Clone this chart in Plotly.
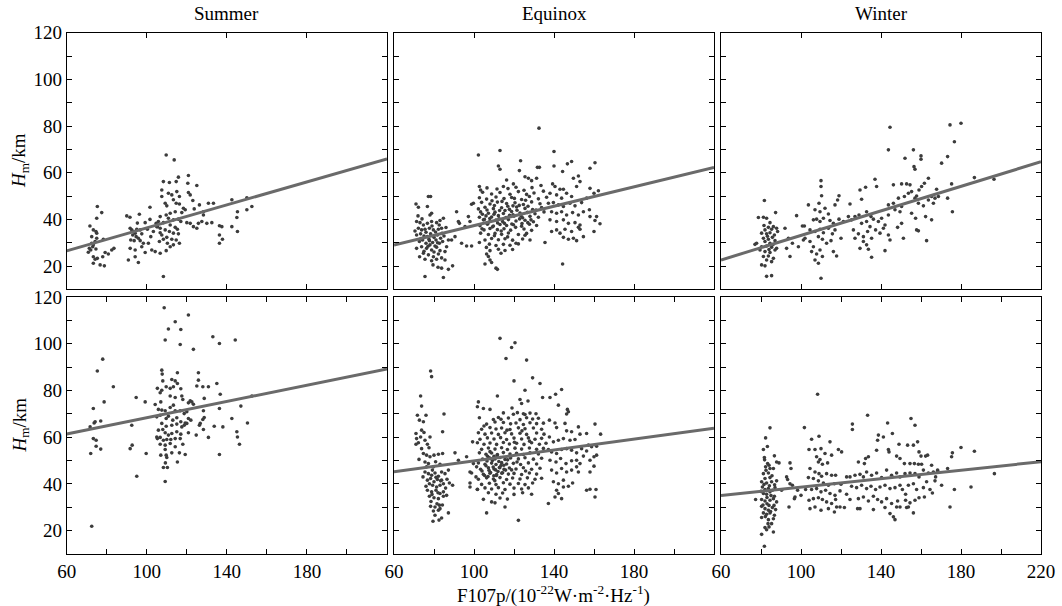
import plotly.graph_objects as go

seasons = ["Summer", "Equinox", "Winter"]
x_tick_vals = [60, 100, 140, 180, 220]
x_minor_vals = [80, 120, 160, 200]
y_tick_vals = [20, 40, 60, 80, 100, 120]
y_minor_vals = [30, 50, 70, 90, 110]

# regression line values at F107p = 60 and 220
fit_top_60 = [26.5, 29.0, 22.6]
fit_top_220 = [65.9, 62.3, 64.7]
fit_bot_60 = [61.4, 45.2, 35.0]
fit_bot_220 = [89.2, 63.8, 49.5]

summer_top = [
    (75.3,45.5),(77.5,42.9),(75.0,40.5),(71.6,37.2),(73.3,35.5),(74.6,34.8),(75.0,34.1),(72.5,29.8),(73.3,29.1),(74.2,30.5),
    (71.3,27.6),(72.0,26.9),(73.0,28.3),(74.6,27.3),(70.8,25.9),(73.3,24.0),(74.2,22.9),(73.3,21.2),(75.3,23.3),(76.7,20.5),
    (78.8,20.1),(78.0,24.0),(79.2,25.8),(80.8,25.2),(82.5,26.9),(83.6,27.6),(78.3,31.5),(75.0,31.9),(72.5,32.6),
    (90.0,41.5),(91.6,40.9),(96.3,42.2),(99.2,38.6),(101.6,45.2),(101.6,40.0),(91.7,36.2),(92.5,35.5),(93.3,34.8),(94.2,34.1),
    (95.0,35.8),(96.7,35.5),(97.5,33.8),(93.0,33.3),(94.7,32.6),(95.8,31.9),(92.0,31.2),(93.7,30.9),(96.7,30.9),(98.3,29.8),
    (97.5,28.3),(91.7,27.6),(94.2,26.9),(99.2,25.8),(102.5,26.9),(104.2,26.2),(106.7,25.5),(90.8,22.6),(94.2,24.0),(95.8,21.5),
    (100.8,29.8),(102.0,32.6),(103.3,34.8),(105.0,36.9),(105.8,39.1),(95.3,38.4),(100.3,35.8),
    (109.7,67.6),(113.7,65.5),(108.3,15.5),(108.3,56.2),(111.3,55.8),(114.7,56.2),(115.8,58.1),(120.8,58.8),(120.5,55.5),(125.0,54.5),
    (107.5,52.6),(110.8,51.2),(112.5,50.5),(115.0,51.9),(116.3,49.8),(120.8,51.5),(121.7,50.5),(123.0,48.1),(107.5,49.8),(109.2,46.9),
    (110.0,45.8),(113.3,48.4),(114.7,46.9),(116.3,46.6),(118.3,44.8),(119.2,44.1),(117.5,42.9),(114.2,43.3),(111.7,42.6),(109.7,41.9),
    (106.7,41.2),(110.8,40.5),(113.3,39.8),(115.8,40.1),(117.0,39.1),(108.3,38.6),(111.7,37.6),(114.2,36.6),(115.3,35.8),(106.7,36.2),
    (109.2,35.5),(111.3,34.8),(113.3,34.1),(115.8,33.8),(107.5,33.3),(110.0,32.3),(112.5,31.5),(114.7,31.2),(108.3,31.5),(106.3,30.5),
    (110.3,29.8),(113.3,29.1),(116.3,29.8),(111.7,28.3),(109.7,26.6),(106.7,34.3),(105.3,36.9),(104.7,38.3),(120.0,38.6),(121.7,38.3),
    (123.3,36.9),(125.0,36.2),(125.8,38.3),(127.5,39.1),(128.3,43.3),(128.3,41.9),(130.8,46.9),(133.3,46.9),(126.3,46.2),(123.7,44.5),
    (130.0,38.3),(132.5,38.6),(136.3,37.3),(137.5,36.9),(136.3,33.3),(137.8,31.5),(136.3,29.8),(142.5,48.4),(145.3,43.3),(145.0,40.8),
    (142.5,36.9),(145.3,34.8),(150.0,49.3),(152.5,45.5),(150.0,44.1),
]

equinox_top = [
    (71.0,46.6),(72.2,45.2),(77.2,49.8),(78.3,49.8),(76.7,45.5),(78.0,41.9),(78.8,42.6),(75.5,15.5),(84.7,15.1),(83.8,19.1),
    (87.2,18.6),(89.3,20.1),(85.5,22.6),
    (71.3,39.1),(73.0,38.6),(74.7,37.6),(76.7,38.3),(78.8,39.1),(81.3,38.6),(83.0,39.5),(84.7,40.5),(72.2,36.2),(73.8,35.5),
    (75.5,35.8),(77.7,36.2),(79.7,35.5),(82.2,35.8),(83.8,36.2),(71.3,33.3),(73.3,33.8),(75.0,32.9),(76.7,32.6),(78.3,33.8),
    (80.0,32.3),(81.7,33.3),(83.3,31.9),(85.0,32.9),(72.7,30.5),(74.3,31.2),(76.0,29.8),(77.7,30.9),(79.3,30.1),(81.0,31.2),
    (82.7,29.8),(84.3,30.5),(71.3,27.6),(73.8,28.3),(76.3,27.6),(78.8,26.9),(81.3,28.1),(83.0,26.6),(74.7,25.5),(77.2,24.8),
    (79.7,24.0),(82.2,25.2),(75.5,22.9),(78.8,22.3),(81.3,22.9),(78.0,29.1),(80.5,28.6),(86.3,28.3),(87.2,31.2),
    (72.0,41.5),(74.0,40.2),(76.0,34.5),(79.0,37.2),(80.8,34.6),(82.6,37.6),(84.0,34.0),(73.5,31.8),(77.0,28.5),(80.0,26.0),
    (85.5,26.2),(75.0,26.3),(83.8,23.5),(86.0,36.5),(70.5,35.0),(72.8,24.0),(79.5,20.5),(82.0,19.5),(77.5,31.5),(81.8,30.0),
    (91.3,43.3),(92.2,39.1),(92.7,38.3),(90.5,32.6),(93.8,29.8),(96.3,28.6),(98.8,28.6),(88.8,31.2),(95.5,36.9),(98.0,39.1),
    (97.2,41.2),(99.7,46.9),(102.2,67.6),
    (113.0,69.5),(112.2,62.9),(113.0,61.5),(123.3,65.1),(132.5,79.1),(122.7,60.9),(125.5,58.3),(127.2,57.6),(128.8,56.6),(131.7,62.3),
    (132.7,62.3),(131.3,57.6),(116.3,56.9),(114.7,54.1),(119.7,55.2),(102.7,54.1),(103.3,52.6),(105.5,20.9),(108.0,22.6),(108.8,21.5),
    (111.0,19.1),(111.7,18.6),(106.3,25.2),(107.2,24.1),
    (104.3,51.6),(108.8,50.9),(113.0,51.5),(118.0,50.8),(122.2,51.9),(126.3,50.7),(130.0,51.3),(134.7,52.1),
    (102.7,49.3),(106.3,48.7),(111.0,49.6),(115.0,48.9),(118.8,49.4),(123.8,48.5),(127.7,49.8),(132.2,48.8),(136.3,49.5),
    (98.8,46.5),(103.8,47.3),(108.0,46.6),(111.7,47.4),(116.3,46.8),(120.5,47.1),(124.7,46.4),(128.8,47.5),(133.0,46.7),
    (102.2,44.5),(105.5,45.2),(109.7,44.6),(113.8,45.0),(117.7,44.3),(121.3,45.3),(125.5,44.7),(129.3,44.2),(133.8,45.1),
    (103.3,43.2),(107.2,42.6),(110.5,43.1),(114.7,42.5),(118.8,43.4),(123.0,42.7),(126.7,43.0),(130.5,42.4),(135.0,43.2),
    (102.7,40.9),(106.0,41.5),(108.8,41.0),(112.2,41.6),(116.0,40.8),(120.0,41.4),(124.3,40.7),(128.0,41.3),(132.2,40.9),
    (104.7,39.8),(108.0,39.2),(111.0,39.7),(114.3,39.1),(117.2,39.9),(121.0,39.3),(125.5,39.6),(129.7,39.0),
    (103.0,37.3),(106.7,37.9),(109.7,37.2),(113.0,37.8),(116.3,37.4),(119.7,37.7),(123.8,37.1),(127.7,37.9),(131.3,37.4),
    (105.0,35.5),(108.0,36.1),(111.7,35.6),(115.0,36.0),(118.3,35.4),(125.0,35.9),(128.8,35.3),
    (103.3,34.1),(107.2,33.5),(110.5,34.0),(113.8,33.6),(117.2,34.2),(122.2,33.5),(126.3,34.0),
    (105.5,31.2),(108.8,31.8),(112.2,31.3),(115.5,31.7),(119.3,31.1),(124.3,31.6),(128.0,31.2),
    (107.7,29.4),(111.0,28.8),(114.7,29.3),(118.0,28.9),(122.2,29.5),(108.0,26.6),(112.2,27.2),(115.5,26.7),(119.3,27.1),
    (102.7,30.1),(135.5,30.1),
    (106.5,44.0),(110.2,45.9),(112.8,43.8),(116.9,45.6),(119.5,42.0),(122.6,46.0),(127.0,45.6),(131.0,44.0),(107.9,40.4),(111.8,38.5),
    (115.2,38.3),(118.9,38.0),(122.8,40.2),(126.9,38.6),(109.3,36.8),(113.6,35.0),(120.8,36.6),(104.2,42.2),(109.0,48.0),(114.0,47.7),
    (120.2,49.0),(125.8,48.2),
    (105.2,40.0),(107.0,38.5),(110.0,42.2),(112.5,40.2),(115.5,43.8),(117.8,41.8),(121.5,43.9),(124.0,38.2),(128.5,39.8),(106.5,53.5),
    (111.5,53.0),(117.0,53.2),(121.0,53.8),(125.0,52.5),(129.0,53.6),(133.5,54.5),(104.0,36.0),(110.2,33.0),(116.8,32.5),(121.0,29.8),
    (125.5,33.2),(106.2,28.0),(113.5,25.5),(119.5,45.8),(123.5,41.5),
    (140.0,69.1),(140.0,62.9),(144.3,60.5),(146.7,63.8),(148.8,64.8),(158.0,61.9),(160.5,64.3),(144.3,20.9),
    (139.3,55.2),(140.5,54.1),(143.0,52.9),(144.7,52.9),(149.7,57.6),(152.2,58.6),(153.0,56.2),(151.3,54.1),
    (138.0,51.2),(141.3,50.5),(143.8,49.1),(146.3,51.2),(148.8,49.8),
    (137.2,46.9),(139.7,47.2),(142.2,46.2),(144.7,45.5),(148.0,46.9),(150.5,45.8),(153.8,47.2),(156.3,49.1),(158.0,53.3),(160.0,51.2),
    (162.2,52.3),(138.8,43.3),(141.3,42.6),(143.8,43.3),(146.3,41.9),(149.3,42.9),(152.2,41.9),(154.7,43.3),(157.7,44.1),
    (138.0,39.8),(141.3,39.1),(144.7,39.8),(147.2,38.3),(150.5,38.6),(153.0,37.6),(158.0,41.2),(161.3,41.2),(160.5,39.5),(163.0,38.1),
    (138.8,34.8),(141.3,35.5),(143.0,34.1),(145.5,35.8),(148.8,34.8),(152.2,36.6),(153.0,35.8),(160.0,34.8),
    (144.7,32.3),(147.2,31.5),(149.7,31.9),(151.3,30.9),(154.7,32.6),
]

winter_top = [
    (81.7,48.1),(78.7,40.8),(81.2,40.9),(82.8,40.5),(87.3,42.9),(84.5,38.6),(86.2,36.9),(83.7,36.6),(82.0,35.5),(85.3,35.8),
    (87.8,36.2),(80.3,34.1),(82.8,33.8),(84.5,34.3),(86.7,33.3),(88.3,34.8),(81.2,31.9),(83.7,31.5),(85.7,32.3),(82.0,30.5),
    (84.5,29.8),(87.0,30.9),(77.8,29.8),(80.3,28.3),(82.8,28.6),(85.3,28.1),(87.8,27.6),(79.5,26.9),(82.0,26.2),(84.5,25.8),
    (87.0,26.9),(81.2,24.1),(83.7,24.3),(86.2,23.3),(82.8,22.6),(85.3,21.9),(80.3,20.5),(82.0,20.1),(82.8,15.6),(85.3,15.9),
    (77.0,29.3),(83.2,32.8),(84.0,27.1),(81.5,37.4),(86.0,29.2),
    (92.0,36.2),(93.7,31.9),(95.7,29.8),(92.8,27.6),(94.5,24.1),(97.8,41.6),(98.7,28.3),(100.7,37.2),(102.0,31.9),
    (110.0,56.6),(110.0,54.1),(110.3,50.1),(109.0,46.9),(103.7,46.2),(107.0,44.1),(109.5,43.3),(112.0,44.8),(113.7,42.3),(117.0,46.2),
    (119.0,50.1),(118.3,48.3),(106.2,39.8),(107.8,40.1),(109.5,39.1),(111.2,40.5),(114.5,39.5),(116.2,38.3),(119.0,40.1),(121.2,39.1),
    (101.7,37.2),(104.5,35.5),(107.0,34.8),(109.5,35.8),(111.2,34.3),(113.7,36.2),(115.7,33.8),(117.0,35.5),(101.2,31.2),(104.5,30.5),
    (106.2,28.3),(108.7,32.6),(110.7,31.5),(112.8,29.8),(115.0,30.9),(120.0,31.9),(105.3,26.2),(107.8,25.2),(109.5,26.9),(110.7,24.1),
    (116.2,26.2),(117.8,24.3),(107.0,22.6),(108.7,21.2),(110.0,14.8),
    (124.5,46.6),(129.5,52.6),(132.3,53.8),(130.3,48.6),(132.8,43.3),(135.0,41.2),(137.0,57.2),(137.8,54.1),
    (123.7,41.2),(125.3,39.8),(127.0,41.2),(129.0,41.9),(130.3,38.3),(132.8,39.1),(134.5,36.9),(136.2,40.1),(138.7,39.1),(140.3,40.5),
    (142.0,37.6),(143.7,41.9),(126.2,35.5),(128.7,33.8),(131.2,32.6),(133.3,34.8),(135.3,31.9),(137.3,35.5),(139.5,34.1),(141.2,36.2),
    (143.7,33.3),(127.0,31.9),(131.2,30.5),(132.8,29.1),(133.7,27.2),(129.5,27.6),(135.3,23.8),(142.0,26.6),(144.5,31.2),
    (143.7,46.2),(146.2,46.9),(147.0,44.1),(148.7,49.1),(150.3,45.5),(149.5,43.3),(151.7,49.8),(153.7,51.2),(155.3,51.9),(157.8,50.0),
    (159.0,52.6),(143.7,69.8),(144.5,79.5),(146.2,54.8),(150.3,55.2),(152.8,55.2),(152.0,66.2),(156.2,69.8),(156.5,62.6),(157.0,61.5),
    (154.5,54.8),(160.0,67.2),(160.0,65.8),(160.3,54.1),(163.7,57.6),(161.7,55.5),(157.0,49.1),(158.7,46.9),(161.2,45.8),(163.7,48.3),
    (165.3,49.8),(166.2,46.9),(167.8,52.9),(155.3,42.6),(157.3,40.5),(162.3,41.2),(165.3,39.8),(157.8,35.5),(158.7,35.1),(162.8,30.9),
    (150.3,38.3),(148.3,36.6),(151.2,31.9),
    (167.0,49.1),(168.7,49.8),(170.3,64.1),(173.3,66.9),(176.7,73.3),(174.5,80.5),(180.0,81.2),(175.3,55.2),(175.7,43.3),(173.3,49.1),
    (186.7,57.9),(196.5,57.2),
]

summer_bottom = [
    (72.5,21.9),(72.0,53.0),(71.7,64.4),(73.3,72.3),(73.7,66.1),(74.2,66.6),(73.3,59.4),(74.7,58.7),(74.7,56.1),(77.0,66.9),
    (77.0,54.9),(75.3,88.3),(78.0,93.4),(78.7,75.1),(83.3,81.6),(91.7,55.1),(92.7,56.6),(92.5,65.1),(94.7,77.0),(95.0,43.3),
    (99.2,75.1),(99.7,53.0),(104.2,74.0),(105.3,80.9),(106.7,79.0),(107.0,75.1),(107.5,88.7),(107.7,87.0),(108.7,115.4),(109.2,101.6),
    (110.8,106.3),(114.2,109.4),(117.0,106.1),(116.7,99.7),(120.8,112.3),(123.3,97.6),(133.0,103.0),(136.3,100.1),(144.2,101.6),
    (108.0,84.1),(109.7,81.6),(112.5,84.7),(114.2,84.1),(115.3,83.0),(115.3,87.6),(107.5,80.1),(111.7,80.9),(113.3,81.6),(117.0,80.7),
    (111.7,77.6),(114.2,77.0),(117.5,77.6),(118.0,76.1),(121.7,75.6),(122.5,75.1),(123.3,74.1),
    (105.8,71.9),(107.5,71.6),(109.2,71.3),(111.7,72.7),(113.3,73.7),(114.2,71.3),(116.7,71.3),(118.7,70.1),(120.0,70.9),
    (105.0,68.7),(106.7,69.4),(109.7,68.0),(110.8,69.0),(113.0,67.3),(115.0,68.3),(117.0,66.6),(119.2,66.1),(120.8,68.0),(122.0,67.3),
    (107.5,65.9),(109.7,64.7),(112.5,65.1),(115.0,65.6),(117.5,64.4),(120.0,65.9),(118.7,65.1),
    (105.8,63.0),(108.0,63.3),(109.2,61.9),(110.8,60.9),(112.5,61.6),(115.0,62.3),(117.0,61.3),(120.8,61.9),(124.7,60.9),
    (105.0,60.1),(105.3,59.4),(106.7,59.9),(108.3,58.7),(110.0,59.0),(112.0,59.0),(114.2,59.4),(116.7,59.4),
    (106.7,57.0),(109.2,56.6),(111.7,57.3),(114.2,55.9),(118.0,57.0),(109.2,54.7),(109.7,52.3),(110.0,51.3),(107.0,52.3),(112.5,53.3),
    (116.3,53.3),(119.2,52.6),(115.3,49.4),(108.3,47.0),(110.3,47.0),(109.3,49.0),(109.2,41.0),
    (120.8,74.7),(125.8,87.6),(125.8,84.4),(125.0,81.9),(128.0,81.6),(128.7,76.6),(130.8,81.6),(135.0,83.0),(136.7,78.4),(128.3,71.3),
    (128.7,68.4),(128.0,67.6),(126.7,65.9),(126.3,65.1),(128.3,63.3),(133.7,64.7),(138.0,64.4),(130.8,59.9),(136.3,72.3),(136.3,52.6),
    (142.5,68.0),(145.0,62.3),(145.3,60.1),(146.3,57.0),(147.0,73.3),(150.3,66.1),(152.5,77.6),
]

equinox_bottom = [
    (78.3,88.3),(78.8,85.9),(73.3,77.6),(73.8,73.3),(71.7,69.4),(76.0,69.4),(72.7,67.3),(74.7,66.6),(85.0,69.9),(84.3,62.3),
    (73.8,63.0),(71.0,61.6),(71.3,59.4),(72.2,57.6),(71.0,57.0),(73.3,60.1),(75.5,58.7),(76.7,57.0),(78.0,60.1),(73.8,55.1),
    (74.7,53.0),(76.3,52.3),(78.0,51.6),(80.0,52.3),(82.2,52.7),(84.3,53.0),(75.5,49.4),(77.2,48.7),
    (75.5,45.1),(77.2,44.4),(78.8,43.7),(80.5,44.7),(82.2,43.3),(83.8,45.1),(85.5,44.4),(76.3,47.3),(79.7,47.3),(83.0,48.4),(87.2,45.9),
    (76.7,41.6),(78.3,42.3),(80.0,40.9),(81.7,41.9),(83.3,41.3),(77.7,40.1),(79.3,39.4),(81.3,38.7),(83.0,39.4),(84.7,40.1),
    (87.7,40.4),(89.3,39.4),(76.7,37.3),(78.8,36.6),(81.0,37.3),(83.0,35.9),(84.7,36.6),(77.7,34.7),(80.0,34.1),(82.2,33.7),
    (84.7,34.7),(86.3,35.1),(78.3,30.4),(80.5,30.1),(82.7,30.9),(79.7,28.4),(82.2,28.7),(83.0,29.4),(80.5,26.6),(83.8,25.4),(87.2,27.6),
    (79.2,45.9),(81.0,42.8),(83.8,41.6),(76.0,39.0),(79.0,35.5),(82.0,36.2),(85.8,38.2),(78.5,32.5),(81.5,31.5),(84.2,31.0),
    (80.8,49.5),(77.5,55.5),(75.0,62.0),(72.5,50.5),(79.5,24.0),(82.5,24.5),(86.5,42.0),(74.5,43.0),
    (90.5,53.3),(92.2,50.1),(96.3,51.6),(99.3,58.0),(98.0,45.1),(99.7,48.7),(101.3,47.3),(98.0,38.7),(101.7,37.6),(101.0,43.0),
    (113.0,102.3),(118.8,98.4),(120.5,100.4),(116.0,93.7),(126.3,93.0),(120.0,84.1),(129.3,85.4),(133.0,83.0),(125.5,80.1),(111.7,77.6),
    (123.0,76.1),(123.8,74.4),(102.2,75.1),(101.7,73.0),(104.7,72.3),(108.0,71.9),(122.2,24.4),(106.3,27.6),(115.5,30.1),(108.8,32.3),(110.5,31.9),
    (114.7,70.4),(119.7,69.8),(121.7,70.5),(125.5,69.7),(128.0,70.3),(124.7,70.0),
    (102.7,68.3),(109.7,67.6),(112.2,68.4),(113.5,67.7),(117.2,68.2),(123.0,67.5),(126.3,68.3),(129.3,67.8),(132.2,68.1),
    (106.3,65.6),(114.7,66.3),(118.3,65.7),(121.0,66.1),(124.7,65.4),(128.0,66.2),(131.3,65.8),(134.7,66.0),
    (103.8,63.4),(108.0,64.1),(111.0,63.5),(113.8,63.9),(118.0,63.3),(122.2,64.0),(125.5,63.6),(129.7,63.9),(133.8,63.4),
    (102.2,61.9),(105.5,61.3),(108.8,61.8),(112.2,61.2),(115.5,61.9),(118.8,61.4),(123.0,61.7),(126.3,61.2),(131.3,61.8),(135.0,61.3),
    (103.0,59.1),(106.7,59.7),(110.0,59.2),(113.3,59.8),(116.3,59.0),(120.0,59.6),(123.8,59.2),(127.2,59.7),(130.5,59.1),(133.8,59.5),
    (101.7,57.6),(105.0,57.0),(108.0,57.5),(111.3,56.9),(114.7,57.7),(117.7,57.1),(121.3,57.4),(125.0,56.9),(128.8,57.6),(132.7,57.0),(136.0,57.4),
    (103.8,54.8),(107.2,55.4),(110.5,54.9),(113.8,55.5),(116.7,54.7),(120.5,55.3),(123.8,54.9),(127.7,55.4),(131.3,54.8),(134.7,55.2),
    (102.7,53.3),(106.0,52.7),(108.8,53.2),(111.7,52.6),(114.7,53.4),(118.0,52.8),(121.3,53.1),(124.7,52.6),(128.0,53.3),(132.2,52.8),
    (104.3,50.6),(107.7,51.2),(110.5,50.7),(113.0,51.3),(115.5,50.5),(118.3,51.1),(122.2,50.7),(125.5,51.2),(129.7,50.6),(133.8,51.0),
    (102.2,49.0),(105.5,48.4),(108.8,48.9),(111.0,48.3),(113.8,49.1),(116.3,48.5),(119.7,48.8),(123.3,48.3),(127.2,49.0),(131.3,48.5),
    (103.3,46.3),(107.2,46.9),(110.0,46.4),(112.7,47.0),(115.0,46.2),(117.7,46.8),(121.0,46.4),(124.7,46.9),(128.8,46.3),(133.0,46.7),
    (98.8,44.7),(104.7,44.1),(108.0,44.6),(111.3,44.0),(114.3,44.8),(117.2,44.2),(120.0,44.5),(123.8,44.0),(127.7,44.7),(131.3,44.2),
    (102.2,42.0),(106.3,42.6),(109.7,42.1),(113.0,42.7),(116.3,41.9),(119.3,42.5),(123.0,42.1),(126.7,42.6),(130.5,42.0),(133.8,42.4),
    (98.0,40.4),(103.8,39.8),(107.7,40.3),(111.0,39.7),(114.7,40.5),(118.0,39.9),(122.2,40.2),(125.5,39.7),(129.3,40.4),
    (101.7,37.7),(105.5,38.3),(108.8,37.8),(112.2,38.4),(115.5,37.6),(120.0,38.2),(123.8,37.8),(127.2,38.3),
    (107.2,36.2),(111.0,35.6),(114.3,36.1),(120.0,35.5),(124.3,36.2),(128.8,35.6),(104.7,33.4),(113.0,34.0),(116.7,33.5),
    (106.0,47.8),(107.5,45.8),(109.2,50.0),(110.8,46.0),(112.4,49.6),(113.9,44.6),(106.8,51.8),(109.9,43.5),(111.6,52.2),(114.9,48.0),
    (108.3,44.9),(105.3,43.6),(112.9,46.9),(116.8,50.3),(110.4,41.4),
    (104.0,45.5),(106.5,49.8),(108.0,53.8),(110.0,51.8),(112.0,45.3),(113.5,47.9),(115.8,45.9),(107.0,43.2),(109.6,47.2),(111.2,43.6),
    (118.8,46.0),(121.5,49.4),(125.8,45.5),(120.2,57.8),(124.0,62.7),(127.8,58.3),(116.5,63.0),(110.5,66.5),(105.0,64.8),(119.0,72.5),
    (131.0,70.0),(127.0,75.5),
    (143.8,80.4),(140.8,78.4),(138.0,77.0),(134.3,77.0),(142.2,73.7),(146.7,71.9),(147.2,70.9),(146.3,69.9),(137.2,31.6),(143.8,33.7),
    (142.2,35.9),(160.5,34.4),(158.0,37.7),(161.0,37.6),(163.3,61.3),(160.5,65.6),
    (137.7,67.3),(140.5,66.1),(141.3,64.1),(145.5,65.9),(146.3,62.7),(148.8,62.3),(137.7,60.1),(139.7,58.0),(142.2,58.7),(144.7,59.4),
    (148.0,58.7),(150.5,59.0),(152.2,64.4),(153.0,61.3),(156.3,61.6),(157.2,56.6),
    (137.2,54.7),(138.8,53.7),(141.3,53.0),(143.8,54.7),(146.3,55.1),(148.8,54.4),(151.3,53.3),(153.8,55.1),(156.3,54.1),(158.8,55.9),(161.3,56.1),
    (138.0,50.1),(141.0,49.4),(143.3,50.9),(146.0,48.7),(148.8,49.9),(151.3,50.1),(153.0,48.7),(154.7,51.9),(158.0,50.1),(160.0,51.6),(161.3,52.3),
    (138.8,45.9),(141.3,44.7),(143.8,46.6),(146.3,45.1),(148.8,45.9),(151.3,47.3),(152.2,45.1),(158.0,45.1),(160.0,47.6),
    (139.7,40.9),(142.2,40.1),(144.7,41.6),(147.2,39.0),(149.3,40.4),(144.7,38.7),(141.3,37.3),(156.3,37.3),(140.5,34.4),
]

winter_bottom = [
    (84.5,64.0),(82.3,59.7),(81.2,54.7),(81.7,51.3),(86.7,52.0),(87.8,49.4),(89.0,49.0),
    (83.3,48.7),(82.3,47.3),(84.5,46.6),(86.2,46.6),(81.2,44.4),(83.7,44.7),(82.0,42.3),(84.5,42.7),(80.3,40.9),(82.8,40.4),
    (85.3,40.9),(87.8,41.3),(80.7,38.7),(82.0,37.6),(83.7,38.0),(85.7,37.3),(87.0,38.4),(81.2,35.9),(82.8,35.6),(84.5,36.6),
    (86.7,34.7),(77.3,33.3),(80.3,33.3),(82.0,32.7),(84.5,33.0),(86.2,33.7),(87.8,32.3),(80.3,30.4),(82.0,29.4),(83.7,28.7),
    (85.7,29.9),(87.3,29.0),(81.2,27.6),(82.8,27.0),(84.5,27.6),(86.7,26.6),(80.3,25.6),(83.7,24.7),(86.2,25.1),(82.0,21.3),
    (84.0,21.6),(85.3,23.0),(82.8,20.4),(86.2,19.4),(80.3,18.4),(81.7,13.3),(83.0,31.5),(85.0,35.0),(81.5,39.8),(84.0,30.8),
    (82.5,45.8),(84.2,39.2),(85.5,43.5),(83.0,34.2),(81.0,31.0),(84.8,28.2),(82.2,26.0),(86.5,30.8),(83.5,23.0),(81.8,50.3),
    (83.2,56.0),(80.0,36.8),(86.8,39.6),(84.0,48.0),
    (92.8,43.0),(93.3,41.9),(94.5,49.0),(95.0,46.6),(95.7,39.4),(97.0,34.4),(96.7,33.7),(94.0,30.1),(94.5,40.1),(90.3,37.3),
    (98.3,37.3),(100.0,35.1),(101.7,64.1),(102.3,37.6),
    (108.3,78.4),(105.3,59.1),(109.0,60.4),(104.0,54.7),(107.0,54.7),(110.0,55.1),(114.5,58.0),(107.8,51.6),(109.5,50.4),(108.7,49.4),
    (110.7,48.4),(112.0,53.0),(113.3,49.0),(115.3,52.3),(118.7,54.7),(120.3,53.7),
    (104.5,46.6),(107.0,45.1),(109.0,44.4),(110.3,43.3),(112.8,44.4),(115.3,43.7),(117.3,43.7),(103.7,42.7),(106.2,42.3),(108.7,41.3),
    (111.2,40.4),(113.7,39.4),(116.7,40.1),(120.0,39.9),(122.8,43.0),
    (105.3,37.6),(107.8,38.0),(110.0,36.6),(112.3,37.3),(114.5,35.9),(117.0,35.1),(119.5,37.0),(104.0,33.0),(106.2,33.7),(108.7,34.1),
    (110.7,33.3),(112.8,32.3),(115.3,31.6),(117.3,33.3),(119.5,30.1),(121.7,29.9),(104.5,29.4),(107.0,30.1),(110.0,28.7),(113.7,29.4),
    (116.7,28.0),(117.8,30.1),
    (125.7,65.6),(125.7,63.3),(133.3,69.4),(143.3,66.1),(138.7,60.9),(141.2,60.1),(145.7,61.6),(138.3,58.7),(143.7,54.7),(144.0,53.7),
    (137.8,54.4),(133.7,51.6),(132.3,50.9),(131.7,48.7),(128.7,49.4),(147.8,51.9),(149.0,57.0),(149.5,50.9),
    (124.5,43.0),(127.0,43.7),(129.5,44.1),(131.2,43.0),(132.8,45.1),(135.3,43.7),(137.8,44.7),(140.3,42.7),(142.8,45.9),(145.3,43.7),
    (147.8,44.7),(149.5,43.0),(125.3,39.0),(127.8,38.4),(130.3,39.4),(132.8,38.0),(135.0,39.0),(137.3,37.6),(139.5,38.7),(142.0,39.4),
    (144.5,38.0),(147.0,38.4),(149.5,39.4),(122.8,35.6),
    (124.5,33.3),(128.7,33.7),(131.2,34.4),(133.7,32.7),(136.2,34.7),(138.3,33.3),(140.3,32.3),(142.8,33.7),(145.3,31.6),(147.8,30.1),
    (128.3,29.4),(129.5,29.4),(136.2,29.0),(142.0,29.9),(144.5,27.3),(146.2,25.9),(147.0,24.7),(149.5,30.1),(148.3,32.7),
    (155.0,68.0),(157.0,65.1),(158.3,58.0),(159.0,53.7),(160.0,51.9),(162.3,51.9),(156.2,56.6),(153.3,56.6),(151.7,48.7),(154.5,48.7),
    (156.7,48.7),(158.7,48.4),(160.3,48.4),(163.3,52.3),(165.3,48.0),(161.2,45.9),(163.7,44.7),(166.2,45.1),(168.3,45.6),(167.3,43.0),
    (157.0,44.4),(152.0,44.4),(154.5,44.7),(159.0,43.0),(153.7,39.4),(156.2,40.1),(157.8,37.6),(161.2,38.4),(164.5,37.6),(167.0,41.3),
    (162.8,40.9),(165.7,36.1),(152.3,33.0),(154.5,31.9),(157.0,33.0),(159.0,34.1),(161.7,34.4),(152.8,29.9),(153.7,30.1),(156.2,27.6),
    (150.7,37.6),(152.3,35.6),
    (168.3,45.9),(170.3,39.4),(173.3,46.6),(174.5,30.1),(175.3,51.6),(175.7,53.3),(176.7,37.6),(180.0,55.6),(185.0,38.7),(186.7,54.0),
    (196.7,44.4),
]

panels = [summer_top, equinox_top, winter_top, summer_bottom, equinox_bottom, winter_bottom]
fit_60 = fit_top_60 + fit_bot_60
fit_220 = fit_top_220 + fit_bot_220

W, H = 1062, 606
x_dom = [[66.7 / W, 387 / W], [394 / W, 714 / W], [721 / W, 1041 / W]]
y_dom = [[1 - 289.4 / H, 1 - 32.7 / H], [1 - 554 / H, 1 - 297 / H]]

FONT = "Liberation Serif, Times New Roman, serif"
fig = go.Figure()
layout = dict(
    width=W, height=H, margin=dict(l=0, r=0, t=0, b=0, pad=0, autoexpand=False),
    paper_bgcolor="white", plot_bgcolor="white", showlegend=False,
    font=dict(family=FONT, size=19, color="black"),
)

for i, pts in enumerate(panels):
    r, c = divmod(i, 3)
    sfx = "" if i == 0 else str(i + 1)
    xs = [p[0] for p in pts]
    ys = [p[1] for p in pts]
    fig.add_trace(go.Scatter(x=xs, y=ys, mode="markers",
                             marker=dict(size=3.6, color="#3c3c3c", line=dict(width=0)),
                             xaxis="x" + sfx, yaxis="y" + sfx, hoverinfo="skip"))
    fig.add_trace(go.Scatter(x=[60, 220], y=[fit_60[i], fit_220[i]], mode="lines",
                             line=dict(color="#6a6a6a", width=3),
                             xaxis="x" + sfx, yaxis="y" + sfx, hoverinfo="skip"))
    xa = dict(domain=x_dom[c], anchor="y" + sfx, range=[60, 220], showline=True, linecolor="black",
              linewidth=1, mirror="ticks", ticks="inside", ticklen=5, tickcolor="black", tickwidth=1,
              showgrid=False, zeroline=False, automargin=False,
              tickfont=dict(family=FONT, size=19, color="black"))
    if r == 0:
        xa.update(tickmode="array", tickvals=x_tick_vals, showticklabels=False)
    else:
        vals = x_tick_vals if c == 2 else x_tick_vals[:-1]
        xa.update(tickmode="array", tickvals=vals, ticktext=[str(v) for v in vals],
                  minor=dict(tickmode="array", tickvals=x_minor_vals, ticks="inside", ticklen=5,
                             tickcolor="black", tickwidth=1, showgrid=False))
    ya = dict(domain=y_dom[r], anchor="x" + sfx, range=[10, 120], showline=True, linecolor="black",
              linewidth=1, mirror="ticks", ticks="inside", ticklen=5, tickcolor="black", tickwidth=1,
              showgrid=False, zeroline=False, automargin=False, tickmode="array", tickvals=y_tick_vals,
              ticktext=[str(v) for v in y_tick_vals], showticklabels=(c == 0),
              tickfont=dict(family=FONT, size=19, color="black"),
              minor=dict(tickmode="array", tickvals=y_minor_vals, ticks="inside", ticklen=5,
                         tickcolor="black", tickwidth=1, showgrid=False))
    layout["xaxis" + sfx] = xa
    layout["yaxis" + sfx] = ya

annotations = []
for c, name in enumerate(seasons):
    annotations.append(dict(text=name, x=sum(x_dom[c]) / 2, y=1 - 14 / H, xref="paper", yref="paper",
                            showarrow=False, xanchor="center", yanchor="middle",
                            font=dict(family=FONT, size=19, color="black")))
for r in range(2):
    annotations.append(dict(text="<i>H</i><sub>m</sub>/km", x=20 / W, y=sum(y_dom[r]) / 2,
                            xref="paper", yref="paper", showarrow=False, textangle=-90,
                            xanchor="center", yanchor="middle",
                            font=dict(family=FONT, size=19, color="black")))
annotations.append(dict(text="F107p/(10<sup>-22</sup>W·m<sup>-2</sup>·Hz<sup>-1</sup>)",
                        x=553 / W, y=1 - 594 / H, xref="paper", yref="paper", showarrow=False,
                        xanchor="center", yanchor="middle",
                        font=dict(family=FONT, size=19, color="black")))
layout["annotations"] = annotations
fig.update_layout(**layout)
fig.write_html(
    "out.html",
    post_script="document.documentElement.style.margin='0';document.body.style.margin='0';"
                "document.body.style.padding='0';document.body.style.overflow='hidden';",
)
